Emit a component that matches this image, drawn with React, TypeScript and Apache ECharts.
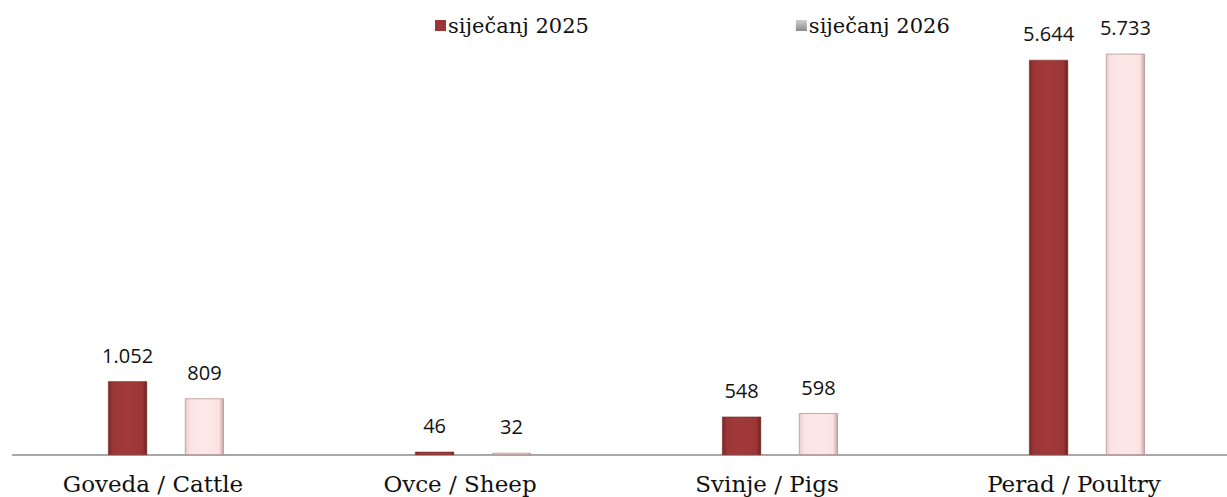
import React, { useEffect, useRef } from "react";
import * as echarts from "echarts";

const categories = ["Goveda / Cattle", "Ovce / Sheep", "Svinje / Pigs", "Perad / Poultry"];
const seriesNames = ["siječanj 2025", "siječanj 2026"];
const values2025 = [1052, 46, 548, 5644];
const values2026 = [809, 32, 598, 5733];

const fmt = (v: number) => {
  const s = String(Math.round(v));
  return s.replace(/\B(?=(\d{3})+(?!\d))/g, ".");
};

export default function App() {
  const ref = useRef<HTMLDivElement>(null);
  useEffect(() => {
    if (!ref.current) return;
    const chart = echarts.init(ref.current, null, { renderer: "svg" });
    const darkGrad = new echarts.graphic.LinearGradient(0, 0, 1, 0, [
      { offset: 0, color: "#7d2626" },
      { offset: 0.12, color: "#9c3636" },
      { offset: 0.5, color: "#a23a3a" },
      { offset: 0.88, color: "#9c3636" },
      { offset: 1, color: "#6e2020" },
    ]);
    const lightGrad = new echarts.graphic.LinearGradient(0, 0, 1, 0, [
      { offset: 0, color: "#e9cccc" },
      { offset: 0.12, color: "#fbe3e3" },
      { offset: 0.5, color: "#fde8e8" },
      { offset: 0.88, color: "#fbe3e3" },
      { offset: 1, color: "#c9a5a5" },
    ]);
    const grayGrad = new echarts.graphic.LinearGradient(0, 0, 0, 1, [
      { offset: 0, color: "#d0d0d0" },
      { offset: 1, color: "#8a8a8a" },
    ]);
    const labelStyle = {
      show: true,
      position: "top",
      distance: 16,
      fontFamily: "Open Sans",
      fontSize: 20,
      color: "#111",
      formatter: (p: any) => fmt(p.value),
    };
    chart.setOption({
      animation: false,
      grid: { left: 12.5, right: 19.5, top: 0, bottom: 42, containLabel: false },
      legend: {
        left: 430,
        top: 10,
        itemWidth: 11,
        itemHeight: 11,
        itemGap: 207,
        icon: "rect",
        textStyle: { fontFamily: "DejaVu Serif", fontSize: 21, color: "#111", padding: [0, 0, 0, -3] },
        data: [
          { name: seriesNames[0], itemStyle: { color: "#9c3636", borderWidth: 0 } },
          { name: seriesNames[1], itemStyle: { color: grayGrad, borderWidth: 0 } },
        ],
      },
      xAxis: {
        type: "category",
        data: categories,
        axisLine: { lineStyle: { color: "#8c8c8c", width: 1.5 } },
        axisTick: { show: false },
        axisLabel: {
          fontFamily: "DejaVu Serif",
          fontSize: 23,
          color: "#111",
          margin: 17,
          padding: [0, 26, 0, 0],
        },
      },
      yAxis: {
        type: "value",
        min: 0,
        max: 6500,
        show: false,
        splitLine: { show: false },
      },
      series: [
        {
          name: seriesNames[0],
          type: "bar",
          data: values2025,
          barWidth: 39,
          barGap: "97%",
          itemStyle: { color: darkGrad, borderColor: "#6e2020", borderWidth: 0.5 },
          label: labelStyle,
        },
        {
          name: seriesNames[1],
          type: "bar",
          data: values2026,
          barWidth: 39,
          itemStyle: { color: lightGrad, borderColor: "#b89494", borderWidth: 0.8 },
          label: labelStyle,
        },
      ],
    });
    return () => chart.dispose();
  }, []);
  return (
    <div
      style={{ position: "fixed", left: 0, top: 0, width: 1227, height: 497, overflow: "hidden", background: "#fff" }}
    >
      <div ref={ref} style={{ width: 1260, height: 497 }} />
    </div>
  );
}
